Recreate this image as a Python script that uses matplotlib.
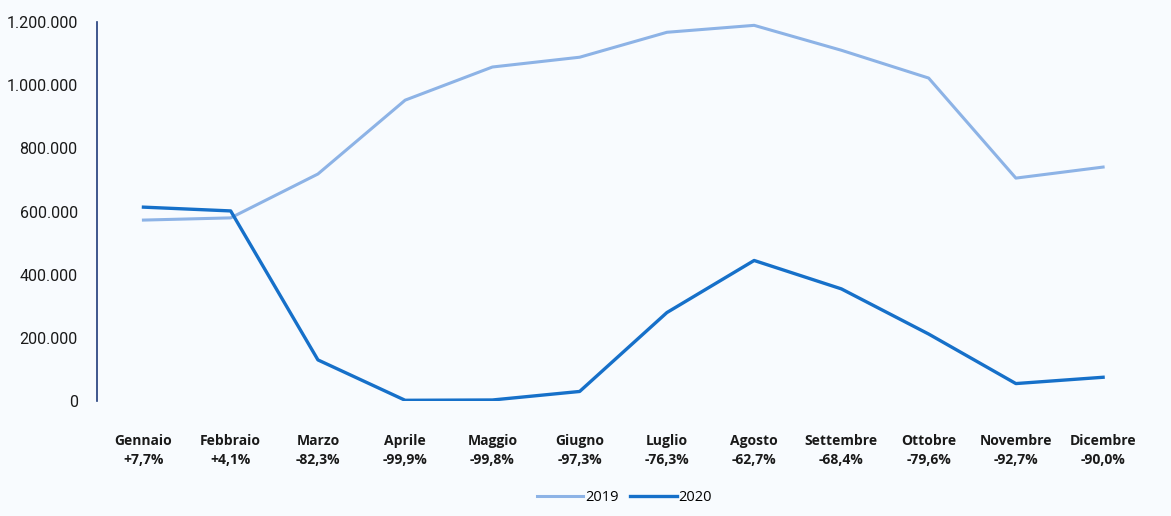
import matplotlib.pyplot as plt
from matplotlib.ticker import FuncFormatter

months = ['Gennaio', 'Febbraio', 'Marzo', 'Aprile', 'Maggio', 'Giugno',
          'Luglio', 'Agosto', 'Settembre', 'Ottobre', 'Novembre', 'Dicembre']
changes = ['+7,7%', '+4,1%', '-82,3%', '-99,9%', '-99,8%', '-97,3%',
           '-76,3%', '-62,7%', '-68,4%', '-79,6%', '-92,7%', '-90,0%']
values_2019 = [573000, 580000, 719000, 953000, 1058000, 1089000,
               1168000, 1190000, 1111000, 1023000, 706000, 741000]
values_2020 = [614000, 602000, 130000, 2000, 3000, 30000,
               280000, 445000, 355000, 212000, 55000, 75000]

bg = '#f8fbfe'
fig = plt.figure(figsize=(11.71, 5.16), dpi=100, facecolor=bg)
ax = fig.add_axes([0.083, 0.223, 0.90, 0.734], facecolor=bg)

x = range(len(months))
ax.plot(x, values_2019, color='#8db3e6', lw=2.2, label='2019')
ax.plot(x, values_2020, color='#1670c9', lw=2.4, label='2020')

ax.set_xlim(-0.53, 11.55)
ax.set_ylim(0, 1200000)
ax.set_yticks(range(0, 1200001, 200000))
ax.yaxis.set_major_formatter(FuncFormatter(lambda v, p: f'{int(v):,}'.replace(',', '.')))
ax.tick_params(axis='y', length=0, pad=14, labelsize=11.5, labelcolor='#1a1a1a')
for t in ax.get_yticklabels():
    t.set_fontfamily('Roboto')

ax.set_xticks(list(x))
ax.set_xticklabels([f'{m}\n{c}' for m, c in zip(months, changes)],
                   fontfamily='Open Sans', fontweight='bold', fontsize=10,
                   color='#1a1a1a', linespacing=1.45)
ax.tick_params(axis='x', length=0, pad=24)

for s in ['top', 'right', 'bottom']:
    ax.spines[s].set_visible(False)
ax.spines['left'].set_color('#1f3a7a')
ax.spines['left'].set_linewidth(1.2)

leg = ax.legend(loc='upper center', bbox_to_anchor=(0.5, -0.2), ncol=2,
                frameon=False, handlelength=3.2, columnspacing=0.8,
                handletextpad=0.1, prop={'family': 'Open Sans', 'size': 10.5})

fig.savefig('out.png', dpi=100, facecolor=bg)
